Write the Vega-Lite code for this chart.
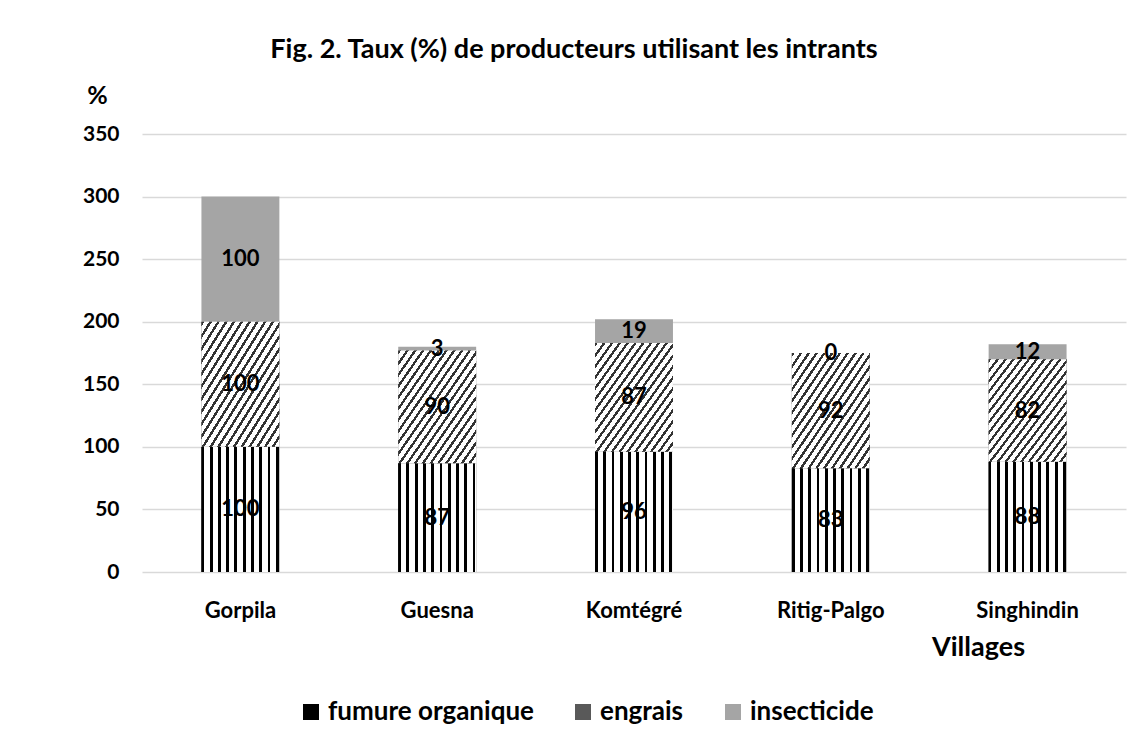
{
  "$schema": "https://vega.github.io/schema/vega-lite/v6.json",
  "width": 984,
  "height": 438,
  "autosize": "none",
  "padding": {"left": 142, "top": 134, "right": 20, "bottom": 175},
  "background": "white",
  "title": {"text": "Fig. 2. Taux (%) de producteurs utilisant les intrants", "font": "Lato", "fontSize": 27, "fontWeight": "bold", "color": "#000", "anchor": "middle", "frame": "group", "dx": -60, "offset": 19},
  "data": {"values": [
    {"village": "Gorpila", "intrant": "fumure organique", "ord": 1, "value": 100},
    {"village": "Gorpila", "intrant": "engrais", "ord": 2, "value": 100},
    {"village": "Gorpila", "intrant": "insecticide", "ord": 3, "value": 100},
    {"village": "Guesna", "intrant": "fumure organique", "ord": 1, "value": 87},
    {"village": "Guesna", "intrant": "engrais", "ord": 2, "value": 90},
    {"village": "Guesna", "intrant": "insecticide", "ord": 3, "value": 3},
    {"village": "Komtégré", "intrant": "fumure organique", "ord": 1, "value": 96},
    {"village": "Komtégré", "intrant": "engrais", "ord": 2, "value": 87},
    {"village": "Komtégré", "intrant": "insecticide", "ord": 3, "value": 19},
    {"village": "Ritig-Palgo", "intrant": "fumure organique", "ord": 1, "value": 83},
    {"village": "Ritig-Palgo", "intrant": "engrais", "ord": 2, "value": 92},
    {"village": "Ritig-Palgo", "intrant": "insecticide", "ord": 3, "value": 0},
    {"village": "Singhindin", "intrant": "fumure organique", "ord": 1, "value": 88},
    {"village": "Singhindin", "intrant": "engrais", "ord": 2, "value": 82},
    {"village": "Singhindin", "intrant": "insecticide", "ord": 3, "value": 12}
  ]},
  "transform": [
    {"stack": "value", "groupby": ["village"], "sort": [{"field": "ord", "order": "ascending"}], "as": ["y0", "y1"]}
  ],
  "encoding": {
    "x": {
      "field": "village", "type": "nominal", "sort": ["Gorpila", "Guesna", "Komtégré", "Ritig-Palgo", "Singhindin"],
      "scale": {"paddingInner": 0.604, "paddingOuter": 0.302},
      "axis": {"title": "Villages", "labelAngle": 0, "domain": false, "ticks": false, "labelPadding": 28, "labelFont": "Lato", "labelFontSize": 22, "labelFontWeight": "bold", "labelColor": "#000", "titleFont": "Lato", "titleFontSize": 27, "titleFontWeight": "bold", "titleColor": "#000", "titleX": 836, "titleY": 75, "titleAlign": "center", "titleBaseline": "middle"}
    },
    "y": {
      "field": "y0", "type": "quantitative",
      "scale": {"domain": [0, 350], "nice": false},
      "axis": {"title": "%", "values": [0, 50, 100, 150, 200, 250, 300, 350], "grid": true, "gridColor": "#d9d9d9", "gridWidth": 1.5, "domain": false, "ticks": false, "labelPadding": 23, "labelFont": "Lato", "labelFontSize": 21, "labelFontWeight": "bold", "labelColor": "#000", "titleFont": "Lato", "titleFontSize": 25, "titleFontWeight": "bold", "titleColor": "#000", "titleAngle": 0, "titleX": -45, "titleY": -39, "titleAlign": "center", "titleBaseline": "middle"}
    },
    "y2": {"field": "y1"}
  },
  "config": {"view": {"stroke": null}},
  "layer": [
    {
      "mark": {"type": "bar"},
      "encoding": {
        "fill": {
          "field": "intrant", "type": "nominal",
          "scale": {"domain": ["fumure organique", "engrais", "insecticide"], "range": ["#000000", "#595959", "#a5a5a5"]},
          "legend": {
            "title": null, "orient": "none", "legendX": 156, "legendY": 565, "direction": "horizontal", "symbolType": "square", "symbolSize": 256, "symbolStrokeWidth": 0, "labelFont": "Lato", "labelFontSize": 26, "labelFontWeight": "bold", "labelColor": "#000", "labelOffset": 4, "columnPadding": 36, "labelLimit": 400
          }
        }
      }
    },
    {
      "transform": [{"filter": "datum.intrant === 'fumure organique'"}],
      "mark": {"type": "bar", "fill": {"gradient": "linear", "x1": 0, "y1": 0, "x2": 1, "y2": 0, "stops": [
                {"offset": 0, "color": "#000"}, {"offset": 0.036, "color": "#000"}, {"offset": 0.036, "color": "#fff"}, {"offset": 0.106, "color": "#fff"},
                {"offset": 0.106, "color": "#000"}, {"offset": 0.142, "color": "#000"}, {"offset": 0.142, "color": "#fff"}, {"offset": 0.212, "color": "#fff"},
                {"offset": 0.212, "color": "#000"}, {"offset": 0.248, "color": "#000"}, {"offset": 0.248, "color": "#fff"}, {"offset": 0.318, "color": "#fff"},
                {"offset": 0.318, "color": "#000"}, {"offset": 0.354, "color": "#000"}, {"offset": 0.354, "color": "#fff"}, {"offset": 0.424, "color": "#fff"},
                {"offset": 0.424, "color": "#000"}, {"offset": 0.46, "color": "#000"}, {"offset": 0.46, "color": "#fff"}, {"offset": 0.53, "color": "#fff"},
                {"offset": 0.53, "color": "#000"}, {"offset": 0.566, "color": "#000"}, {"offset": 0.566, "color": "#fff"}, {"offset": 0.636, "color": "#fff"},
                {"offset": 0.636, "color": "#000"}, {"offset": 0.672, "color": "#000"}, {"offset": 0.672, "color": "#fff"}, {"offset": 0.742, "color": "#fff"},
                {"offset": 0.742, "color": "#000"}, {"offset": 0.778, "color": "#000"}, {"offset": 0.778, "color": "#fff"}, {"offset": 0.848, "color": "#fff"},
                {"offset": 0.848, "color": "#000"}, {"offset": 0.884, "color": "#000"}, {"offset": 0.884, "color": "#fff"}, {"offset": 0.954, "color": "#fff"},
                {"offset": 0.954, "color": "#000"}, {"offset": 0.99, "color": "#000"}, {"offset": 0.99, "color": "#fff"}, {"offset": 1, "color": "#fff"}
              ]}}
    },
    {
      "transform": [{"filter": "datum.intrant === 'engrais'"}],
      "mark": {"type": "bar", "fill": {"gradient": "linear", "x1": 0, "y1": 0, "x2": 1, "y2": 1, "stops": [
                {"offset": 0, "color": "#333"}, {"offset": 0.018, "color": "#333"}, {"offset": 0.018, "color": "#fff"}, {"offset": 0.05, "color": "#fff"},
                {"offset": 0.05, "color": "#333"}, {"offset": 0.068, "color": "#333"}, {"offset": 0.068, "color": "#fff"}, {"offset": 0.1, "color": "#fff"},
                {"offset": 0.1, "color": "#333"}, {"offset": 0.118, "color": "#333"}, {"offset": 0.118, "color": "#fff"}, {"offset": 0.15, "color": "#fff"},
                {"offset": 0.15, "color": "#333"}, {"offset": 0.168, "color": "#333"}, {"offset": 0.168, "color": "#fff"}, {"offset": 0.2, "color": "#fff"},
                {"offset": 0.2, "color": "#333"}, {"offset": 0.218, "color": "#333"}, {"offset": 0.218, "color": "#fff"}, {"offset": 0.25, "color": "#fff"},
                {"offset": 0.25, "color": "#333"}, {"offset": 0.268, "color": "#333"}, {"offset": 0.268, "color": "#fff"}, {"offset": 0.3, "color": "#fff"},
                {"offset": 0.3, "color": "#333"}, {"offset": 0.318, "color": "#333"}, {"offset": 0.318, "color": "#fff"}, {"offset": 0.35, "color": "#fff"},
                {"offset": 0.35, "color": "#333"}, {"offset": 0.368, "color": "#333"}, {"offset": 0.368, "color": "#fff"}, {"offset": 0.4, "color": "#fff"},
                {"offset": 0.4, "color": "#333"}, {"offset": 0.418, "color": "#333"}, {"offset": 0.418, "color": "#fff"}, {"offset": 0.45, "color": "#fff"},
                {"offset": 0.45, "color": "#333"}, {"offset": 0.468, "color": "#333"}, {"offset": 0.468, "color": "#fff"}, {"offset": 0.5, "color": "#fff"},
                {"offset": 0.5, "color": "#333"}, {"offset": 0.518, "color": "#333"}, {"offset": 0.518, "color": "#fff"}, {"offset": 0.55, "color": "#fff"},
                {"offset": 0.55, "color": "#333"}, {"offset": 0.568, "color": "#333"}, {"offset": 0.568, "color": "#fff"}, {"offset": 0.6, "color": "#fff"},
                {"offset": 0.6, "color": "#333"}, {"offset": 0.618, "color": "#333"}, {"offset": 0.618, "color": "#fff"}, {"offset": 0.65, "color": "#fff"},
                {"offset": 0.65, "color": "#333"}, {"offset": 0.668, "color": "#333"}, {"offset": 0.668, "color": "#fff"}, {"offset": 0.7, "color": "#fff"},
                {"offset": 0.7, "color": "#333"}, {"offset": 0.718, "color": "#333"}, {"offset": 0.718, "color": "#fff"}, {"offset": 0.75, "color": "#fff"},
                {"offset": 0.75, "color": "#333"}, {"offset": 0.768, "color": "#333"}, {"offset": 0.768, "color": "#fff"}, {"offset": 0.8, "color": "#fff"},
                {"offset": 0.8, "color": "#333"}, {"offset": 0.818, "color": "#333"}, {"offset": 0.818, "color": "#fff"}, {"offset": 0.85, "color": "#fff"},
                {"offset": 0.85, "color": "#333"}, {"offset": 0.868, "color": "#333"}, {"offset": 0.868, "color": "#fff"}, {"offset": 0.9, "color": "#fff"},
                {"offset": 0.9, "color": "#333"}, {"offset": 0.918, "color": "#333"}, {"offset": 0.918, "color": "#fff"}, {"offset": 0.95, "color": "#fff"},
                {"offset": 0.95, "color": "#333"}, {"offset": 0.968, "color": "#333"}, {"offset": 0.968, "color": "#fff"}, {"offset": 1, "color": "#fff"}
              ]}}
    },
    {
      "transform": [
        {"fold": ["y0", "y1"], "as": ["bound", "pos"]},
        {"aggregate": [{"op": "mean", "field": "pos", "as": "mid"}, {"op": "max", "field": "pos", "as": "y1"}], "groupby": ["village", "intrant", "value"]}
      ],
      "mark": {"type": "text", "font": "Lato", "fontSize": 22, "fontWeight": "bold", "color": "#000", "baseline": "middle", "align": "center"},
      "encoding": {
        "y": {"field": "mid", "type": "quantitative", "axis": {"title": "%"}},
        "text": {"field": "value", "type": "quantitative"}
      }
    }
  ]
}
